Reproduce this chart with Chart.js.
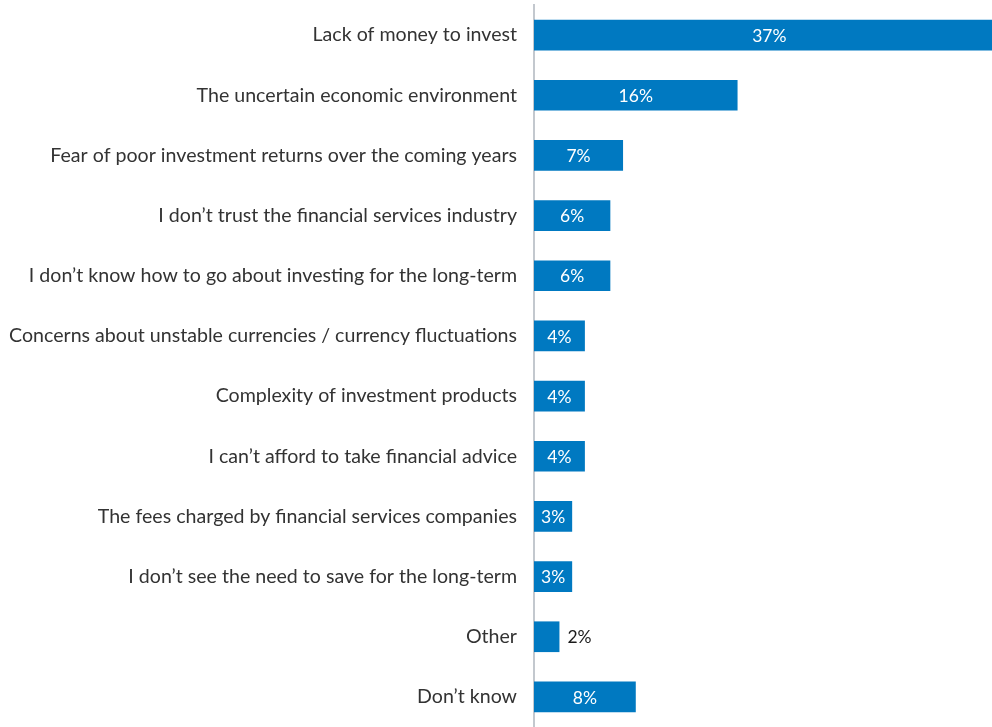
<!DOCTYPE html>
<html>
<head>
<meta charset="utf-8">
<script src="https://cdn.jsdelivr.net/npm/chart.js@4"></script>
<style>
  html, body { margin: 0; padding: 0; background: #fff; }
  #wrap { width: 992px; height: 727px; }
</style>
</head>
<body>
<div id="wrap"><canvas id="myChart"></canvas></div>
<script>
const labels = ['Lack of money to invest'
	, 'The uncertain economic environment'
	, 'Fear of poor investment returns over the coming years'
	, 'I don\u2019t trust the financial services industry'
	, 'I don\u2019t know how to go about investing for the long-term'
	, 'Concerns about unstable currencies / currency fluctuations'
	, 'Complexity of investment products'
	, 'I can\u2019t afford to take financial advice'
	, 'The fees charged by financial services companies'
	, 'I don\u2019t see the need to save for the long-term'
	, 'Other'
	, 'Don\u2019t know'];
const values = [37, 16, 7, 6, 6, 4, 4, 4, 3, 3, 2, 8];
const valueLabels = ['37%', '16%', '7%', '6%', '6%', '4%', '4%', '4%', '3%', '3%', '2%', '8%'];

const FONT = 'Lato, sans-serif';

// value labels: white inside the bar, dark beside it when the bar is too short
const barLabels = {
	id: 'barLabels',
	afterDatasetsDraw(chart) {
		const ctx = chart.ctx;
		const meta = chart.getDatasetMeta(0);
		const area = chart.chartArea;
		ctx.save();
		ctx.font = '17.5px ' + FONT;
		ctx.textBaseline = 'middle';
		meta.data.forEach((bar, i) => {
			const txt = valueLabels[i];
			const w = ctx.measureText(txt).width;
			const right = Math.min(bar.x, area.right + 30);
			const len = right - bar.base;
			if (len > w + 4) {
				ctx.fillStyle = '#ffffff';
				ctx.textAlign = 'center';
				ctx.fillText(txt, (bar.base + right) / 2, bar.y + 1);
			} else {
				ctx.fillStyle = '#1a1a1a';
				ctx.textAlign = 'left';
				ctx.fillText(txt, bar.x + 8, bar.y + 1);
			}
		});
		ctx.restore();
	}
};

const ctx = document.getElementById("myChart").getContext("2d");
const data = {
	labels,
	datasets: [{
		data: values,
		backgroundColor: '#0079C1',
		borderWidth: 0,
		categoryPercentage: 1,
		barPercentage: 0.51
	}]
};
const config = {
	type: 'bar',
	data: data,
	plugins: [barLabels],
	options: {
		indexAxis: 'y',
		responsive: true,
		maintainAspectRatio: false,
		animation: false,
		layout: { padding: { top: 5, bottom: -3, left: 0, right: 0 } },
		plugins: {
			legend: { display: false },
			tooltip: { enabled: false }
		},
		scales: {
			x: {
				display: false,
				min: 0,
				max: 36
			},
			y: {
				grid: { display: false, drawTicks: false },
				border: { display: true, color: '#C3C8CE', width: 2 },
				ticks: {
					color: '#333333',
					padding: 17,
					font: { family: FONT, size: 19.6 }
				},
				afterFit(axis) {
					axis.width = 534;
					axis.paddingTop = 0;
					axis.paddingBottom = 0;
				}
			}
		}
	}
};
const myChart = new Chart(ctx, config);
</script>
</body>
</html>
